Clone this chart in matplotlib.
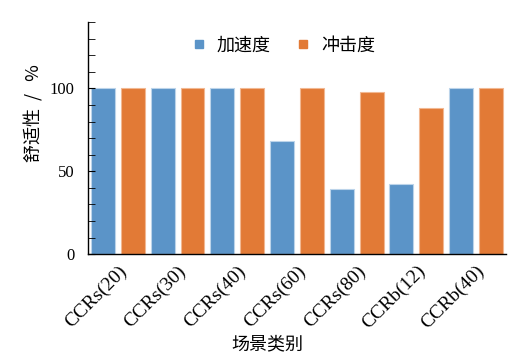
import matplotlib
matplotlib.use("Agg")
import matplotlib.pyplot as plt
from matplotlib.lines import Line2D
import numpy as np

plt.rcParams['font.family'] = ['Liberation Serif', 'Noto Sans CJK SC', 'DejaVu Sans']
CJK = ['Noto Sans CJK SC', 'DejaVu Sans']

# data
categories = ["CCRs(20)", "CCRs(30)", "CCRs(40)", "CCRs(60)", "CCRs(80)", "CCRb(12)", "CCRb(40)"]
accel = [100, 100, 100, 68.5, 39.3, 42.2, 100]
jerk = [100, 100, 100, 100, 97.6, 88.1, 100]
series_names = ["加速度", "冲击度"]

C_BLUE = "#5B94C8"
C_ORANGE = "#E27A36"

fig = plt.figure(figsize=(5.21, 3.62), dpi=100)
ax = fig.add_axes([0.169, 0.298, 0.802, 0.641])

x = np.arange(len(categories))
w = 0.4
ax.bar(x - 0.25, accel, width=w, color=C_BLUE, edgecolor="#BCD4EA", linewidth=0.8)
ax.bar(x + 0.25, jerk, width=w, color=C_ORANGE, edgecolor="#F2B892", linewidth=0.8)

ax.set_xlim(-0.5, 6.5)
ax.set_ylim(0, 140)
ax.set_yticks([0, 50, 100])
ax.set_yticks(np.arange(0, 141, 10), minor=True)
ax.tick_params(axis="y", which="both", direction="in", labelsize=12, length=5, pad=10)
ax.set_xticks(x)
ax.set_xticklabels(categories, rotation=45, ha="right", rotation_mode="anchor", fontsize=14)
ax.tick_params(axis="x", length=0, pad=6)

for s in ["top", "right"]:
    ax.spines[s].set_visible(False)
ax.spines["left"].set_linewidth(1.0)
ax.spines["bottom"].set_linewidth(1.0)

ax.set_ylabel("舒适性  /   %", fontsize=13, family=CJK)
ax.yaxis.set_label_coords(-0.129, 0.606)
ax.yaxis.label.set_va("center")
ax.set_xlabel("场景类别", fontsize=13, family=CJK)
ax.xaxis.set_label_coords(0.43, -0.39)
ax.xaxis.label.set_va("center")

handles = [
    Line2D([], [], marker="s", linestyle="none", color=C_BLUE, markersize=6),
    Line2D([], [], marker="s", linestyle="none", color=C_ORANGE, markersize=6),
]
ax.legend(handles, series_names, loc="center", bbox_to_anchor=(0.465, 0.90),
          ncol=2, frameon=False, prop={"family": CJK, "size": 13},
          handletextpad=0.5, columnspacing=1.3, handlelength=1.0)

fig.savefig("out.png", dpi=100)
